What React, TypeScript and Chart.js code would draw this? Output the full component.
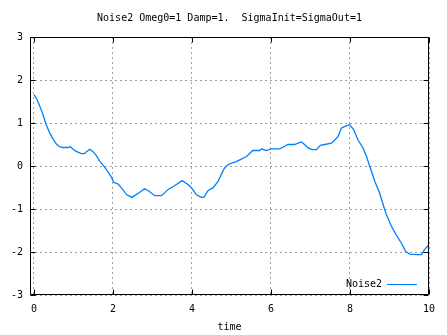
import React, { useEffect, useRef } from "react";
import { Chart, registerables } from "chart.js";

Chart.register(...registerables);

const chartTitle = "Noise2 Omeg0=1 Damp=1.  SigmaInit=SigmaOut=1";
const seriesLabel = "Noise2";
const xAxisTitle = "time";
const xTickValues = [0, 2, 4, 6, 8, 10];
const yTickValues = [-3, -2, -1, 0, 1, 2, 3];

const timeValues = [
  0, 0.06, 0.14, 0.23, 0.31, 0.40, 0.48, 0.57, 0.65, 0.73, 0.86, 0.92, 0.99, 1.07,
  1.20, 1.28, 1.34, 1.41, 1.49, 1.58, 1.66, 1.76, 1.87, 1.96, 2.02, 2.13, 2.25,
  2.35, 2.48, 2.68, 2.80, 2.89, 3.06, 3.23, 3.39, 3.56, 3.75, 3.90, 4.01, 4.11,
  4.24, 4.30, 4.41, 4.53, 4.66, 4.76, 4.83, 4.91, 5.04, 5.12, 5.25, 5.38, 5.54,
  5.71, 5.77, 5.88, 6.01, 6.22, 6.35, 6.42, 6.60, 6.68, 6.77, 6.85, 6.94, 7.04,
  7.15, 7.25, 7.36, 7.53, 7.61, 7.70, 7.78, 7.87, 7.99, 8.09, 8.20, 8.33, 8.42,
  8.50, 8.63, 8.75, 8.84, 8.92, 9.05, 9.17, 9.30, 9.41, 9.51, 9.68, 9.81, 9.89, 10.0,
];

const noise2Values = [
  1.66, 1.58, 1.41, 1.19, 0.96, 0.77, 0.63, 0.51, 0.45, 0.43, 0.43, 0.45, 0.39, 0.34,
  0.29, 0.29, 0.34, 0.39, 0.34, 0.24, 0.12, 0.01, -0.13, -0.26, -0.38, -0.42, -0.55,
  -0.67, -0.73, -0.61, -0.53, -0.57, -0.69, -0.69, -0.55, -0.46, -0.34, -0.43, -0.53, -0.67,
  -0.73, -0.73, -0.57, -0.51, -0.36, -0.16, -0.04, 0.03, 0.08, 0.10, 0.16, 0.22, 0.36,
  0.36, 0.40, 0.36, 0.40, 0.40, 0.46, 0.50, 0.50, 0.53, 0.56, 0.50, 0.42, 0.38,
  0.38, 0.48, 0.50, 0.53, 0.60, 0.69, 0.88, 0.92, 0.96, 0.85, 0.61, 0.42, 0.22,
  -0.01, -0.36, -0.63, -0.90, -1.13, -1.40, -1.60, -1.79, -1.99, -2.05, -2.06, -2.06, -1.94, -1.83,
];

const FONT = "'DejaVu Sans Mono', monospace";
const LINE_COLOR = "#0080ff";

const frameAndLegend = {
  id: "frameAndLegend",
  afterDraw(chart: any) {
    const ctx = chart.ctx;
    const a = chart.chartArea;
    const L = Math.round(a.left) + 0.5;
    const R = Math.round(a.right) - 0.5;
    const T = Math.round(a.top) + 0.5;
    const B = Math.round(a.bottom) - 0.5;
    ctx.save();
    ctx.strokeStyle = "#000";
    ctx.lineWidth = 1;
    ctx.setLineDash([]);
    ctx.beginPath();
    ctx.rect(L, T, R - L, B - T);
    const tick = 5;
    const xs = chart.scales.x;
    for (const t of xs.ticks) {
      const px = Math.round(xs.getPixelForValue(t.value)) + 0.5;
      ctx.moveTo(px, B);
      ctx.lineTo(px, B - tick);
      ctx.moveTo(px, T);
      ctx.lineTo(px, T + tick);
    }
    const ys = chart.scales.y;
    for (const t of ys.ticks) {
      const py = Math.round(ys.getPixelForValue(t.value)) + 0.5;
      ctx.moveTo(L, py);
      ctx.lineTo(L + tick, py);
      ctx.moveTo(R, py);
      ctx.lineTo(R - tick, py);
    }
    ctx.stroke();

    // legend
    const ds = chart.data.datasets[0];
    const ly = Math.round(a.bottom) - 10.5;
    const lineEnd = Math.round(a.right) - 12;
    const lineStart = lineEnd - 30;
    ctx.strokeStyle = ds.borderColor;
    ctx.lineWidth = 1;
    ctx.beginPath();
    ctx.moveTo(lineStart, ly);
    ctx.lineTo(lineEnd, ly);
    ctx.stroke();
    ctx.fillStyle = "#000";
    ctx.font = "10px " + FONT;
    ctx.textAlign = "right";
    ctx.textBaseline = "middle";
    ctx.fillText(ds.label, lineStart - 5, ly);
    ctx.restore();
  },
};

export default function App() {
  const ref = useRef<HTMLCanvasElement | null>(null);

  useEffect(() => {
    const canvas = ref.current;
    if (!canvas) return;
    const data = timeValues.map((t, i) => ({ x: t, y: noise2Values[i] }));
    const chart = new Chart(canvas, {
      type: "line",
      data: {
        datasets: [
          {
            label: seriesLabel,
            data,
            borderColor: LINE_COLOR,
            backgroundColor: LINE_COLOR,
            borderWidth: 1.3,
            pointRadius: 0,
            tension: 0,
            fill: false,
          },
        ],
      },
      options: {
        animation: false,
        responsive: false,
        devicePixelRatio: 1,
        layout: { padding: { left: 0, right: 18, top: 0, bottom: 0 } },
        plugins: {
          legend: { display: false },
          tooltip: { enabled: false },
          title: {
            display: true,
            text: chartTitle,
            fullSize: false,
            color: "#000",
            font: { family: FONT, size: 10, weight: "normal", lineHeight: 1.2 },
            padding: { top: 12, bottom: 13 },
          },
        },
        scales: {
          x: {
            type: "linear",
            min: -0.1,
            max: 10,
            afterBuildTicks: (scale: any) => {
              scale.ticks = xTickValues.map((v) => ({ value: v }));
            },
            afterFit: (scale: any) => {
              scale.height = 40;
            },
            grid: { color: "#a0a0a0", lineWidth: 1, drawTicks: false },
            border: { display: false, dash: [2, 3] },
            ticks: {
              color: "#000",
              font: { family: FONT, size: 10 },
              padding: 8,
              maxRotation: 0,
              autoSkip: false,
              callback: (v: any) => String(v),
            },
            title: {
              display: true,
              text: xAxisTitle,
              color: "#000",
              font: { family: FONT, size: 10, lineHeight: 1.2 },
              padding: { top: 0, bottom: 2 },
            },
          },
          y: {
            type: "linear",
            min: -3,
            max: 3,
            afterBuildTicks: (scale: any) => {
              scale.ticks = yTickValues.map((v) => ({ value: v }));
            },
            afterFit: (scale: any) => {
              scale.width = 30;
            },
            grid: { color: "#a0a0a0", lineWidth: 1, drawTicks: false },
            border: { display: false, dash: [2, 3] },
            ticks: {
              color: "#000",
              font: { family: FONT, size: 10 },
              padding: 7,
              autoSkip: false,
              callback: (v: any) => String(v),
            },
          },
        },
      },
      plugins: [frameAndLegend],
    });
    return () => chart.destroy();
  }, []);

  return (
    <div style={{ position: "fixed", left: 0, top: 0, width: 447, height: 335, background: "#fff" }}>
      <canvas ref={ref} width={447} height={335} style={{ display: "block" }} />
    </div>
  );
}
